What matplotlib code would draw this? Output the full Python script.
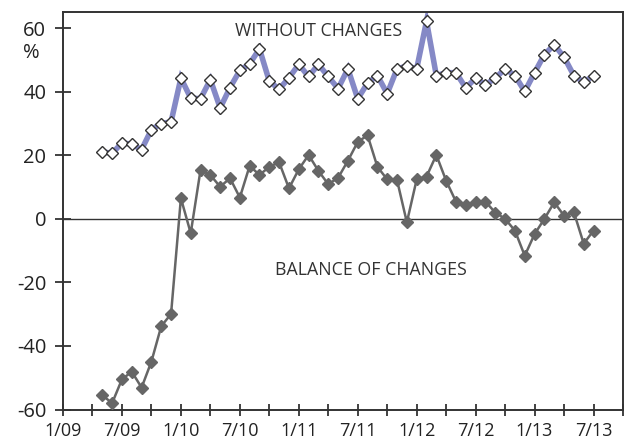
import matplotlib
matplotlib.use("Agg")
import matplotlib.pyplot as plt
import numpy as np

plt.rcParams['font.family'] = ['Open Sans', 'DejaVu Sans']

# months since 1/09 (0 = Jan 2009); data run from 5/09 to 7/13
start_month = 4
without_changes = [21.1, 20.6, 23.9, 23.5, 21.8, 28.1, 30.0, 30.5, 44.3, 38.0,
                   37.8, 43.8, 34.9, 41.3, 46.7, 48.8, 53.5, 43.3, 40.8, 44.4,
                   48.6, 44.8, 48.6, 44.8, 41.0, 47.2, 37.8, 42.7, 45.1, 39.4,
                   47.2, 48.1, 47.2, 62.2, 45.1, 46.0, 46.0, 41.2, 44.3, 42.2,
                   44.3, 47.2, 45.1, 40.1, 46.0, 51.7, 54.8, 50.9, 45.1, 43.0,
                   45.1]
balance_of_changes = [-55.5, -58.0, -50.5, -48.1, -53.1, -44.9, -33.8, -29.9, 6.5, -4.5,
                      15.4, 13.8, 10.1, 12.8, 6.7, 16.7, 13.8, 16.4, 17.8, 9.6,
                      15.6, 20.1, 15.1, 10.9, 12.9, 18.3, 24.2, 26.3, 16.4, 12.4,
                      12.2, -1.1, 12.4, 13.3, 20.1, 12.0, 5.4, 4.4, 5.4, 5.4,
                      2.0, 0.0, -3.7, -11.6, -4.8, 0.0, 5.2, 1.0, 2.1, -7.8,
                      -3.7]
x_tick_labels = ['1/09', '', '7/09', '', '1/10', '', '7/10', '', '1/11', '', '7/11', '',
                 '1/12', '', '7/12', '', '1/13', '', '7/13', '']
y_ticks = [-60, -40, -20, 0, 20, 40, 60]

months = np.arange(start_month, start_month + len(without_changes))

fig = plt.figure(figsize=(6.25, 4.46), dpi=100)
ax = fig.add_axes([0.1008, 0.0818, 0.896, 0.8906])

dark = '#333333'
ax.axhline(0, color=dark, lw=1.0, zorder=1)

ax.plot(months, without_changes, color='#8589c6', lw=4.0, zorder=2,
        marker='D', markersize=6.5, markerfacecolor='white',
        markeredgecolor='#333333', markeredgewidth=1.0, solid_joinstyle='miter')
ax.plot(months, balance_of_changes, color='#666666', lw=1.8, zorder=3,
        marker='D', markersize=6, markerfacecolor='#666666',
        markeredgecolor='#666666')

ax.set_xlim(0, 57)
ax.set_ylim(-60, 65)
ax.set_xticks(np.arange(0, 58, 3)[:len(x_tick_labels)])
ax.set_xticklabels(x_tick_labels)
ax.set_yticks(y_ticks)
ax.set_yticklabels([str(v) for v in y_ticks])

for s in ax.spines.values():
    s.set_color(dark)
    s.set_linewidth(1.4)

ax.tick_params(axis='x', direction='inout', length=8, width=1.3, color=dark,
               labelsize=13, labelcolor='#222222', pad=5)
ax.tick_params(axis='y', direction='inout', length=12, width=1.3, color=dark,
               labelsize=14.5, labelcolor='#222222', pad=6)

ax.text(17.5, 59.2, 'WITHOUT CHANGES', fontsize=12.8, color=dark, va='center', ha='left')
ax.text(21.6, -16, 'BALANCE OF CHANGES', fontsize=12.8, color=dark, va='center', ha='left')
fig.text(31 / 625, 1 - 53 / 446, '%', fontsize=14.5, color='#222222', ha='center', va='center')

fig.savefig('out.png', dpi=100)
